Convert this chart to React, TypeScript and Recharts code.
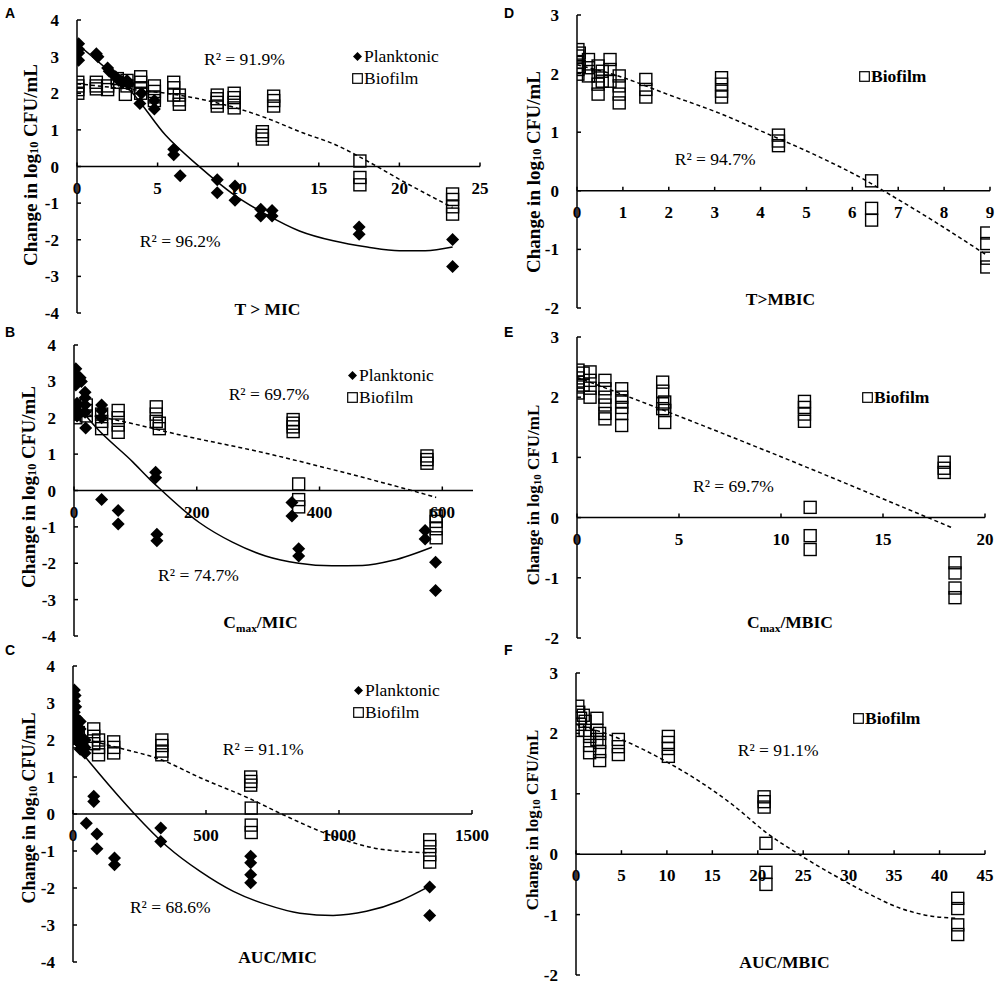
import React from 'react'
import {
  ComposedChart,
  XAxis,
  YAxis,
  Scatter,
  Line,
  ReferenceLine,
  ReferenceDot,
  Legend,
  Label,
} from 'recharts'

type Pt = { x: number; y: number }

const SERIF = '"Times New Roman", "Liberation Serif", serif'

const seriesOrder = ['Planktonic', 'Biofilm']
const ticksMic = [-4, -3, -2, -1, 0, 1, 2, 3, 4]
const ticksMbic = [-2, -1, 0, 1, 2, 3]

// A: T > MIC
const aTicks = [0, 5, 10, 15, 20, 25]
const aPlanktonic: Pt[] = [
  { x: 0.1, y: 3.35 }, { x: 0.1, y: 3.2 }, { x: 0.1, y: 3.1 }, { x: 0.1, y: 2.9 },
  { x: 1.2, y: 3.08 }, { x: 1.3, y: 3.0 }, { x: 1.9, y: 2.69 }, { x: 2.0, y: 2.6 },
  { x: 2.4, y: 2.45 }, { x: 2.6, y: 2.35 }, { x: 2.8, y: 2.3 }, { x: 3.1, y: 2.35 },
  { x: 3.2, y: 2.25 }, { x: 3.9, y: 1.72 }, { x: 4.0, y: 2.0 }, { x: 4.8, y: 1.57 },
  { x: 4.8, y: 1.8 }, { x: 6.0, y: 0.47 }, { x: 6.0, y: 0.32 }, { x: 6.4, y: -0.25 },
  { x: 8.7, y: -0.36 }, { x: 8.7, y: -0.72 }, { x: 9.8, y: -0.53 }, { x: 9.8, y: -0.92 },
  { x: 11.4, y: -1.17 }, { x: 11.4, y: -1.35 }, { x: 12.1, y: -1.2 }, { x: 12.1, y: -1.35 },
  { x: 17.5, y: -1.65 }, { x: 17.5, y: -1.85 }, { x: 23.3, y: -1.99 }, { x: 23.3, y: -2.73 },
]
const aBiofilm: Pt[] = [
  { x: 0.05, y: 2.3 }, { x: 0.05, y: 2.2 }, { x: 0.05, y: 2.1 }, { x: 0.05, y: 2.0 },
  { x: 1.2, y: 2.3 }, { x: 1.2, y: 2.2 }, { x: 1.2, y: 2.12 }, { x: 1.9, y: 2.2 },
  { x: 1.9, y: 2.1 }, { x: 2.5, y: 2.4 }, { x: 2.5, y: 2.3 }, { x: 3.1, y: 2.35 },
  { x: 3.1, y: 2.2 }, { x: 3.0, y: 1.97 }, { x: 3.95, y: 2.45 }, { x: 3.95, y: 2.3 },
  { x: 3.95, y: 2.15 }, { x: 3.95, y: 2.0 }, { x: 4.8, y: 2.2 }, { x: 4.8, y: 2.05 },
  { x: 4.8, y: 1.9 }, { x: 4.8, y: 1.8 }, { x: 6.0, y: 2.3 }, { x: 6.0, y: 2.15 },
  { x: 6.0, y: 1.95 }, { x: 6.35, y: 1.95 }, { x: 6.35, y: 1.82 }, { x: 6.35, y: 1.7 },
  { x: 8.7, y: 1.95 }, { x: 8.7, y: 1.85 }, { x: 8.7, y: 1.75 }, { x: 8.7, y: 1.65 },
  { x: 9.75, y: 2.0 }, { x: 9.75, y: 1.88 }, { x: 9.75, y: 1.75 }, { x: 9.75, y: 1.6 },
  { x: 11.5, y: 0.95 }, { x: 11.5, y: 0.85 }, { x: 11.5, y: 0.75 }, { x: 12.2, y: 1.92 },
  { x: 12.2, y: 1.8 }, { x: 12.2, y: 1.65 }, { x: 17.55, y: 0.15 }, { x: 17.55, y: -0.3 },
  { x: 17.55, y: -0.5 }, { x: 23.3, y: -0.75 }, { x: 23.3, y: -0.9 }, { x: 23.3, y: -1.1 },
  { x: 23.3, y: -1.3 },
]
const aPlanktonicTrend: Pt[] = [
  { x: 0, y: 3.35 }, { x: 2, y: 2.6 }, { x: 3.4, y: 2.03 }, { x: 5.5, y: 0.85 },
  { x: 7.5, y: 0.03 }, { x: 9.7, y: -0.76 }, { x: 11.7, y: -1.3 }, { x: 13.8, y: -1.76 },
  { x: 15.9, y: -2.03 }, { x: 18, y: -2.2 }, { x: 20, y: -2.3 }, { x: 21.6, y: -2.3 },
  { x: 23.3, y: -2.2 },
]
const aBiofilmTrend: Pt[] = [
  { x: 0, y: 2.26 }, { x: 3, y: 2.12 }, { x: 6, y: 1.97 }, { x: 9.7, y: 1.62 },
  { x: 11.7, y: 1.33 }, { x: 14, y: 0.92 }, { x: 16, y: 0.6 }, { x: 18, y: 0.15 },
  { x: 20, y: -0.35 }, { x: 23.3, y: -1.12 },
]

// B: Cmax/MIC
const bTicks = [0, 200, 400, 600]
const bPlanktonic: Pt[] = [
  { x: 3, y: 3.35 }, { x: 3, y: 3.2 }, { x: 5, y: 3.05 }, { x: 3, y: 2.9 },
  { x: 10, y: 3.1 }, { x: 12, y: 3.0 }, { x: 5, y: 2.4 }, { x: 5, y: 2.2 },
  { x: 5, y: 2.05 }, { x: 18, y: 2.7 }, { x: 18, y: 2.55 }, { x: 18, y: 2.35 },
  { x: 18, y: 2.15 }, { x: 19, y: 1.72 }, { x: 45, y: 2.35 }, { x: 45, y: 2.2 },
  { x: 45, y: 2.0 }, { x: 45, y: -0.25 }, { x: 72, y: -0.55 }, { x: 72, y: -0.92 },
  { x: 133, y: 0.5 }, { x: 133, y: 0.35 }, { x: 135, y: -1.2 }, { x: 135, y: -1.38 },
  { x: 355, y: -0.33 }, { x: 355, y: -0.7 }, { x: 366, y: -1.6 }, { x: 366, y: -1.8 },
  { x: 572, y: -1.1 }, { x: 572, y: -1.33 }, { x: 589, y: -1.97 }, { x: 589, y: -2.75 },
]
const bBiofilm: Pt[] = [
  { x: 0, y: 2.3 }, { x: 0, y: 2.2 }, { x: 0, y: 2.1 }, { x: 3, y: 2.0 },
  { x: 20, y: 2.35 }, { x: 20, y: 2.2 }, { x: 20, y: 2.05 }, { x: 45, y: 2.1 },
  { x: 45, y: 1.9 }, { x: 45, y: 1.7 }, { x: 72, y: 2.2 }, { x: 72, y: 2.0 },
  { x: 72, y: 1.8 }, { x: 72, y: 1.6 }, { x: 134, y: 2.3 }, { x: 134, y: 2.1 },
  { x: 134, y: 1.9 }, { x: 139, y: 1.85 }, { x: 139, y: 1.7 }, { x: 357, y: 1.95 },
  { x: 357, y: 1.85 }, { x: 357, y: 1.75 }, { x: 357, y: 1.62 }, { x: 366, y: 0.18 },
  { x: 366, y: -0.25 }, { x: 366, y: -0.45 }, { x: 575, y: 0.95 }, { x: 575, y: 0.85 },
  { x: 575, y: 0.75 }, { x: 590, y: -0.7 }, { x: 590, y: -0.85 }, { x: 590, y: -1.05 },
  { x: 590, y: -1.3 },
]
const bPlanktonicTrend: Pt[] = [
  { x: 3, y: 2.4 }, { x: 35, y: 1.75 }, { x: 96, y: 0.78 }, { x: 124, y: 0.3 },
  { x: 139, y: 0.06 }, { x: 204, y: -0.88 }, { x: 258, y: -1.42 }, { x: 312, y: -1.8 },
  { x: 366, y: -2.0 }, { x: 420, y: -2.07 }, { x: 470, y: -2.06 }, { x: 520, y: -1.92 },
  { x: 583, y: -1.56 },
]
const bBiofilmTrend: Pt[] = [
  { x: 0, y: 2.15 }, { x: 62, y: 1.96 }, { x: 180, y: 1.5 }, { x: 306, y: 1.05 },
  { x: 420, y: 0.58 }, { x: 550, y: 0 }, { x: 590, y: -0.19 },
]

// C: AUC/MIC
const cTicks = [0, 500, 1000, 1500]
const cPlanktonic: Pt[] = [
  { x: 5, y: 3.35 }, { x: 8, y: 3.2 }, { x: 5, y: 3.05 }, { x: 10, y: 2.9 },
  { x: 5, y: 2.75 }, { x: 12, y: 2.6 }, { x: 5, y: 2.45 }, { x: 10, y: 2.3 },
  { x: 5, y: 2.15 }, { x: 12, y: 2.0 }, { x: 27, y: 2.5 }, { x: 27, y: 2.3 },
  { x: 27, y: 2.1 }, { x: 27, y: 1.9 }, { x: 27, y: 1.75 }, { x: 45, y: 2.0 },
  { x: 45, y: 1.8 }, { x: 45, y: 1.65 }, { x: 50, y: -0.25 }, { x: 78, y: 0.48 },
  { x: 78, y: 0.34 }, { x: 90, y: -0.54 }, { x: 90, y: -0.94 }, { x: 156, y: -1.19 },
  { x: 156, y: -1.37 }, { x: 330, y: -0.38 }, { x: 330, y: -0.74 }, { x: 668, y: -1.14 },
  { x: 668, y: -1.32 }, { x: 668, y: -1.64 }, { x: 668, y: -1.86 }, { x: 1341, y: -1.97 },
  { x: 1341, y: -2.74 },
]
const cBiofilm: Pt[] = [
  { x: 0, y: 2.3 }, { x: 0, y: 2.15 }, { x: 0, y: 2.05 }, { x: 5, y: 1.95 },
  { x: 20, y: 2.2 }, { x: 20, y: 2.05 }, { x: 78, y: 2.3 }, { x: 78, y: 2.1 },
  { x: 78, y: 1.9 }, { x: 96, y: 2.0 }, { x: 96, y: 1.8 }, { x: 96, y: 1.6 },
  { x: 153, y: 1.95 }, { x: 153, y: 1.8 }, { x: 153, y: 1.65 }, { x: 334, y: 2.0 },
  { x: 334, y: 1.85 }, { x: 334, y: 1.7 }, { x: 334, y: 1.6 }, { x: 668, y: 1.0 },
  { x: 668, y: 0.88 }, { x: 668, y: 0.78 }, { x: 670, y: 0.16 }, { x: 670, y: -0.3 },
  { x: 670, y: -0.5 }, { x: 1341, y: -0.7 }, { x: 1341, y: -0.88 }, { x: 1341, y: -1.1 },
  { x: 1341, y: -1.3 },
]
const cPlanktonicTrend: Pt[] = [
  { x: 0, y: 1.95 }, { x: 65, y: 1.38 }, { x: 184, y: 0.38 }, { x: 228, y: 0.03 },
  { x: 353, y: -0.87 }, { x: 478, y: -1.55 }, { x: 603, y: -2.09 }, { x: 728, y: -2.45 },
  { x: 853, y: -2.68 }, { x: 978, y: -2.74 }, { x: 1103, y: -2.63 }, { x: 1228, y: -2.35 },
  { x: 1341, y: -1.95 },
]
const cBiofilmTrend: Pt[] = [
  { x: 0, y: 2.12 }, { x: 84, y: 1.95 }, { x: 165, y: 1.8 }, { x: 334, y: 1.46 },
  { x: 478, y: 0.98 }, { x: 660, y: 0.43 }, { x: 790, y: -0.02 }, { x: 978, y: -0.6 },
  { x: 1166, y: -0.96 }, { x: 1341, y: -1.05 },
]

// D: T>MBIC
const dTicks = [0, 1, 2, 3, 4, 5, 6, 7, 8, 9]
const dBiofilm: Pt[] = [
  { x: 0.02, y: 2.41 }, { x: 0.02, y: 2.3 }, { x: 0.02, y: 2.19 }, { x: 0.02, y: 2.07 },
  { x: 0.02, y: 1.99 }, { x: 0.05, y: 2.35 }, { x: 0.05, y: 2.12 }, { x: 0.25, y: 2.24 },
  { x: 0.25, y: 2.1 }, { x: 0.25, y: 1.96 }, { x: 0.46, y: 2.13 }, { x: 0.46, y: 1.96 },
  { x: 0.46, y: 1.82 }, { x: 0.46, y: 1.65 }, { x: 0.55, y: 2.04 }, { x: 0.55, y: 1.87 },
  { x: 0.72, y: 2.24 }, { x: 0.72, y: 2.07 }, { x: 0.72, y: 1.87 }, { x: 0.92, y: 1.96 },
  { x: 0.92, y: 1.79 }, { x: 0.92, y: 1.65 }, { x: 0.92, y: 1.5 }, { x: 1.5, y: 1.9 },
  { x: 1.5, y: 1.73 }, { x: 1.5, y: 1.6 }, { x: 3.15, y: 1.93 }, { x: 3.15, y: 1.82 },
  { x: 3.15, y: 1.7 }, { x: 3.15, y: 1.6 }, { x: 4.39, y: 0.95 }, { x: 4.39, y: 0.85 },
  { x: 4.39, y: 0.77 }, { x: 6.42, y: 0.17 }, { x: 6.42, y: -0.3 }, { x: 6.42, y: -0.5 },
  { x: 8.93, y: -0.72 }, { x: 8.93, y: -0.9 }, { x: 8.93, y: -1.15 }, { x: 8.93, y: -1.3 },
]
const dBiofilmTrend: Pt[] = [
  { x: 0, y: 2.15 }, { x: 0.9, y: 1.96 }, { x: 1.96, y: 1.65 }, { x: 3.05, y: 1.34 },
  { x: 4.1, y: 0.99 }, { x: 5.22, y: 0.6 }, { x: 6.31, y: 0.17 }, { x: 6.68, y: 0 },
  { x: 7.76, y: -0.51 }, { x: 8.93, y: -1.1 },
]

// E: Cmax/MBIC
const eTicks = [0, 5, 10, 15, 20]
const eBiofilm: Pt[] = [
  { x: 0.05, y: 2.45 }, { x: 0.05, y: 2.32 }, { x: 0.05, y: 2.25 }, { x: 0.05, y: 2.17 },
  { x: 0.05, y: 2.07 }, { x: 0.3, y: 2.4 }, { x: 0.3, y: 2.2 }, { x: 0.64, y: 2.42 },
  { x: 0.64, y: 2.28 }, { x: 0.64, y: 2.15 }, { x: 0.64, y: 2.0 }, { x: 1.37, y: 2.28 },
  { x: 1.37, y: 2.14 }, { x: 1.37, y: 2.0 }, { x: 1.37, y: 1.87 }, { x: 1.37, y: 1.73 },
  { x: 1.37, y: 1.64 }, { x: 2.19, y: 2.14 }, { x: 2.19, y: 2.0 }, { x: 2.19, y: 1.92 },
  { x: 2.19, y: 1.83 }, { x: 2.19, y: 1.73 }, { x: 2.19, y: 1.53 }, { x: 4.2, y: 2.25 },
  { x: 4.2, y: 2.1 }, { x: 4.2, y: 1.89 }, { x: 4.2, y: 1.81 }, { x: 4.3, y: 1.92 },
  { x: 4.3, y: 1.78 }, { x: 4.3, y: 1.58 }, { x: 11.15, y: 1.93 }, { x: 11.15, y: 1.83 },
  { x: 11.15, y: 1.72 }, { x: 11.15, y: 1.6 }, { x: 11.43, y: 0.17 }, { x: 11.43, y: -0.3 },
  { x: 11.43, y: -0.53 }, { x: 18.0, y: 0.92 }, { x: 18.0, y: 0.82 }, { x: 18.0, y: 0.75 },
  { x: 18.53, y: -0.75 }, { x: 18.53, y: -0.92 }, { x: 18.53, y: -1.17 }, { x: 18.53, y: -1.33 },
]
const eBiofilmTrend: Pt[] = [
  { x: 0, y: 2.33 }, { x: 2.35, y: 2.03 }, { x: 9.2, y: 1.12 }, { x: 17.2, y: 0 },
  { x: 18.4, y: -0.17 },
]

// F: AUC/MBIC
const fTicks = [0, 5, 10, 15, 20, 25, 30, 35, 40, 45]
const fBiofilm: Pt[] = [
  { x: 0.2, y: 2.45 }, { x: 0.3, y: 2.35 }, { x: 0.5, y: 2.25 }, { x: 0.4, y: 2.15 },
  { x: 0.2, y: 2.05 }, { x: 0.8, y: 2.3 }, { x: 1.0, y: 2.2 }, { x: 1.0, y: 2.05 },
  { x: 1.5, y: 1.95 }, { x: 1.5, y: 1.8 }, { x: 1.5, y: 1.68 }, { x: 2.3, y: 2.25 },
  { x: 2.3, y: 2.05 }, { x: 2.3, y: 1.9 }, { x: 2.6, y: 2.0 }, { x: 2.6, y: 1.85 },
  { x: 2.6, y: 1.7 }, { x: 2.6, y: 1.55 }, { x: 4.66, y: 1.9 }, { x: 4.66, y: 1.78 },
  { x: 4.66, y: 1.65 }, { x: 10.16, y: 1.95 }, { x: 10.16, y: 1.85 }, { x: 10.16, y: 1.75 },
  { x: 10.16, y: 1.62 }, { x: 20.7, y: 0.95 }, { x: 20.7, y: 0.87 }, { x: 20.7, y: 0.78 },
  { x: 20.9, y: 0.18 }, { x: 20.9, y: -0.3 }, { x: 20.9, y: -0.5 }, { x: 42, y: -0.73 },
  { x: 42, y: -0.9 }, { x: 42, y: -1.17 }, { x: 42, y: -1.33 },
]
const fBiofilmTrend: Pt[] = [
  { x: 0, y: 2.15 }, { x: 4.66, y: 1.92 }, { x: 9.97, y: 1.53 }, { x: 13.64, y: 1.2 },
  { x: 17.3, y: 0.81 }, { x: 21, y: 0.35 }, { x: 24.6, y: -0.01 }, { x: 28.3, y: -0.34 },
  { x: 32, y: -0.64 }, { x: 35.6, y: -0.89 }, { x: 39.3, y: -1.03 }, { x: 42, y: -1.06 },
]

type Note = { x: number; y: number; text: string }

type PanelSpec = {
  letter: string
  left: number
  top: number
  height: number
  marginTop: number
  marginRight: number
  yAxisWidth: number
  xAxisHeight: number
  xDomain: [number, number]
  xTicks: number[]
  yDomain: [number, number]
  yTicks: number[]
  title: React.ReactNode
  titleDx: number
  titleDy: number
  yTitleX: number
  yTitleY: number
  yTitleSize: number
  legendLeft: number
  legendTop: number
  legendBold: boolean
  planktonic?: Pt[]
  planktonicTrend?: Pt[]
  biofilm: Pt[]
  biofilmTrend: Pt[]
  notes: Note[]
}

const sub = (a: string, s: string, b: string) => (
  <>
    {a}
    <tspan fontSize="0.65em" dy={4}>{s}</tspan>
    <tspan dy={-4}>{b}</tspan>
  </>
)

const panels: PanelSpec[] = [
  {
    letter: 'A', left: 0, top: 0, height: 325, marginTop: 20, marginRight: 20,
    yAxisWidth: 77, xAxisHeight: 12, xDomain: [0, 25], xTicks: aTicks,
    yDomain: [-4, 4], yTicks: ticksMic, title: 'T > MIC', titleDx: -11, titleDy: 2,
    yTitleX: 30, yTitleY: 165, yTitleSize: 19, legendLeft: 352, legendTop: 45, legendBold: false,
    planktonic: aPlanktonic, planktonicTrend: aPlanktonicTrend, biofilm: aBiofilm, biofilmTrend: aBiofilmTrend,
    notes: [{ x: 7.88, y: 2.76, text: 'R² = 91.9%' }, { x: 3.9, y: -2.21, text: 'R² = 96.2%' }],
  },
  {
    letter: 'B', left: 0, top: 325, height: 325, marginTop: 20, marginRight: 27,
    yAxisWidth: 74, xAxisHeight: 14, xDomain: [0, 650], xTicks: bTicks,
    yDomain: [-4, 4], yTicks: ticksMic, title: sub('C', 'max', '/MIC'), titleDx: -13, titleDy: -8,
    yTitleX: 28, yTitleY: 162, yTitleSize: 19, legendLeft: 347, legendTop: 39, legendBold: false,
    planktonic: bPlanktonic, planktonicTrend: bPlanktonicTrend, biofilm: bBiofilm, biofilmTrend: bBiofilmTrend,
    notes: [{ x: 252, y: 2.49, text: 'R² = 69.7%' }, { x: 137, y: -2.49, text: 'R² = 74.7%' }],
  },
  {
    letter: 'C', left: 0, top: 650, height: 334, marginTop: 16, marginRight: 28,
    yAxisWidth: 73, xAxisHeight: 22, xDomain: [0, 1500], xTicks: cTicks,
    yDomain: [-4, 4], yTicks: ticksMic, title: 'AUC/MIC', titleDx: 5, titleDy: 1,
    yTitleX: 29, yTitleY: 158, yTitleSize: 18, legendLeft: 353, legendTop: 29, legendBold: false,
    planktonic: cPlanktonic, planktonicTrend: cPlanktonicTrend, biofilm: cBiofilm, biofilmTrend: cBiofilmTrend,
    notes: [{ x: 563, y: 1.6, text: 'R² = 91.1%' }, { x: 214, y: -2.68, text: 'R² = 68.6%' }],
  },
  {
    letter: 'D', left: 500, top: 0, height: 325, marginTop: 15, marginRight: 10,
    yAxisWidth: 77, xAxisHeight: 17, xDomain: [0, 9], xTicks: dTicks,
    yDomain: [-2, 3], yTicks: ticksMbic, title: 'T>MBIC', titleDx: -3, titleDy: -3,
    yTitleX: 33, yTitleY: 172, yTitleSize: 19, legendLeft: 359, legendTop: 65, legendBold: true,
    biofilm: dBiofilm, biofilmTrend: dBiofilmTrend,
    notes: [{ x: 2.13, y: 0.44, text: 'R² = 94.7%' }],
  },
  {
    letter: 'E', left: 500, top: 325, height: 325, marginTop: 12, marginRight: 15,
    yAxisWidth: 77, xAxisHeight: 12, xDomain: [0, 20], xTicks: eTicks,
    yDomain: [-2, 3], yTicks: ticksMbic, title: sub('C', 'max', '/MBIC'), titleDx: 9, titleDy: -10,
    yTitleX: 33, yTitleY: 170, yTitleSize: 17, legendLeft: 362, legendTop: 61, legendBold: true,
    biofilm: eBiofilm, biofilmTrend: eBiofilmTrend,
    notes: [{ x: 5.69, y: 0.43, text: 'R² = 69.7%' }],
  },
  {
    letter: 'F', left: 500, top: 650, height: 334, marginTop: 23, marginRight: 15,
    yAxisWidth: 76, xAxisHeight: 9, xDomain: [0, 45], xTicks: fTicks,
    yDomain: [-2, 3], yTicks: ticksMbic, title: 'AUC/MBIC', titleDx: 4, titleDy: -7,
    yTitleX: 32, yTitleY: 170, yTitleSize: 17, legendLeft: 353, legendTop: 57, legendBold: true,
    biofilm: fBiofilm, biofilmTrend: fBiofilmTrend,
    notes: [{ x: 17.8, y: 1.62, text: 'R² = 91.1%' }],
  },
]

const Diamond = (props: any) => {
  const { cx, cy } = props
  const r = 6.5
  return <polygon points={`${cx},${cy - r} ${cx + r},${cy} ${cx},${cy + r} ${cx - r},${cy}`} fill="#000" />
}

const Square = (props: any) => {
  const { cx, cy } = props
  const h = 6
  return <rect x={cx - h} y={cy - h} width={h * 2} height={h * 2} fill="none" stroke="#000" strokeWidth={1.4} />
}

const xTickShape = (value: number) => (props: any) => (
  <g>
    <line x1={props.cx} x2={props.cx} y1={props.cy} y2={props.cy - 4} stroke="#000" strokeWidth={1.5} />
    <text x={props.cx} y={props.cy + 27} textAnchor="middle" fontFamily={SERIF} fontSize={17} fontWeight={700} fill="#000">
      {value}
    </text>
  </g>
)

const noteShape = (text: string) => (props: any) => (
  <text x={props.cx} y={props.cy} fontFamily={SERIF} fontSize={17.5} fill="#000">
    {text}
  </text>
)

function LegendBox({ payload, bold }: { payload?: any[]; bold: boolean }) {
  const items = (payload ?? [])
    .filter((e) => e.type !== 'none' && seriesOrder.includes(e.value))
    .sort((a, b) => seriesOrder.indexOf(a.value) - seriesOrder.indexOf(b.value))
  return (
    <div style={{ fontFamily: SERIF, fontSize: 17.5, lineHeight: '22px', color: '#000', fontWeight: bold ? 700 : 400 }}>
      {items.map((entry) => (
        <div key={entry.value} style={{ display: 'flex', alignItems: 'center', whiteSpace: 'nowrap' }}>
          <svg width={11} height={11} style={{ display: 'block' }}>
            {entry.type === 'diamond' ? (
              <polygon points="5.5,1 10,5.5 5.5,10 1,5.5" fill="#000" />
            ) : (
              <rect x={0.7} y={0.7} width={9.6} height={9.6} fill="none" stroke="#000" strokeWidth={1.2} />
            )}
          </svg>
          <span style={{ marginLeft: 1 }}>{entry.value}</span>
        </div>
      ))}
    </div>
  )
}

function Panel({ p }: { p: PanelSpec }) {
  return (
    <div style={{ position: 'absolute', left: p.left, top: p.top }}>
      <ComposedChart
        width={500}
        height={p.height}
        margin={{ top: p.marginTop, right: p.marginRight, bottom: 0, left: 0 }}
      >
        <XAxis
          type="number"
          dataKey="x"
          domain={p.xDomain}
          ticks={p.xTicks}
          allowDataOverflow
          height={p.xAxisHeight}
          axisLine={false}
          tickLine={false}
          tick={false}
          label={
            <Label
              content={(lp: any) => {
                const vb = lp.viewBox
                return (
                  <text
                    x={vb.x + vb.width / 2 + p.titleDx}
                    y={vb.y + p.titleDy}
                    textAnchor="middle"
                    fontFamily={SERIF}
                    fontSize={17.5}
                    fontWeight={700}
                    fill="#000"
                  >
                    {p.title}
                  </text>
                )
              }}
            />
          }
        />
        <YAxis
          type="number"
          dataKey="y"
          domain={p.yDomain}
          ticks={p.yTicks}
          interval={0}
          allowDataOverflow
          width={p.yAxisWidth}
          axisLine={{ stroke: '#000', strokeWidth: 1.5 }}
          tickLine={{ stroke: '#000', strokeWidth: 1.5 }}
          tickSize={-4}
          tickMargin={22}
          tick={{ fill: '#000', fontSize: 17, fontWeight: 700, fontFamily: SERIF }}
          label={
            <Label
              content={() => (
                <text
                  transform={`translate(${p.yTitleX},${p.yTitleY}) rotate(-90)`}
                  textAnchor="middle"
                  dominantBaseline="central"
                  fontFamily={SERIF}
                  fontSize={p.yTitleSize}
                  fontWeight={700}
                  fill="#000"
                >
                  {sub('Change in log', '10', ' CFU/mL')}
                </text>
              )}
            />
          }
        />
        <ReferenceLine y={0} stroke="#000" strokeWidth={1.5} />
        {p.xTicks.map((t) => (
          <ReferenceDot key={`t${t}`} x={t} y={0} r={0} shape={xTickShape(t)} />
        ))}
        {p.planktonic && (
          <Scatter
            name="Planktonic"
            data={p.planktonic}
            shape={Diamond}
            legendType="diamond"
            isAnimationActive={false}
          />
        )}
        <Scatter name="Biofilm" data={p.biofilm} shape={Square} legendType="square" isAnimationActive={false} />
        {p.planktonicTrend && (
          <Line
            data={p.planktonicTrend}
            dataKey="y"
            type="monotone"
            stroke="#000"
            strokeWidth={1.5}
            dot={false}
            activeDot={false}
            legendType="none"
            isAnimationActive={false}
          />
        )}
        <Line
          data={p.biofilmTrend}
          dataKey="y"
          type="monotone"
          stroke="#000"
          strokeWidth={1.5}
          strokeDasharray="4 3"
          dot={false}
          activeDot={false}
          legendType="none"
          isAnimationActive={false}
        />
        {p.notes.map((n) => (
          <ReferenceDot key={n.text + n.x} x={n.x} y={n.y} r={0} shape={noteShape(n.text)} />
        ))}
        <Legend
          layout="vertical"
          align="center"
          verticalAlign="middle"
          wrapperStyle={{ left: p.legendLeft, top: p.legendTop, width: 'auto', height: 'auto' }}
          content={(lp: any) => <LegendBox payload={lp.payload} bold={p.legendBold} />}
        />
      </ComposedChart>
      <div
        style={{
          position: 'absolute',
          left: p.left === 0 ? 5 : 4,
          top: p.top === 0 ? 6 : p.top === 325 ? 0 : -7,
          fontFamily: 'Arial, "Liberation Sans", sans-serif',
          fontWeight: 700,
          fontSize: 14,
          lineHeight: '14px',
        }}
      >
        {p.letter}
      </div>
    </div>
  )
}

export default function App() {
  return (
    <div style={{ position: 'relative', width: 1000, height: 984, background: '#fff' }}>
      <style>{'body{margin:0}'}</style>
      {panels.map((p) => (
        <Panel key={p.letter} p={p} />
      ))}
    </div>
  )
}
